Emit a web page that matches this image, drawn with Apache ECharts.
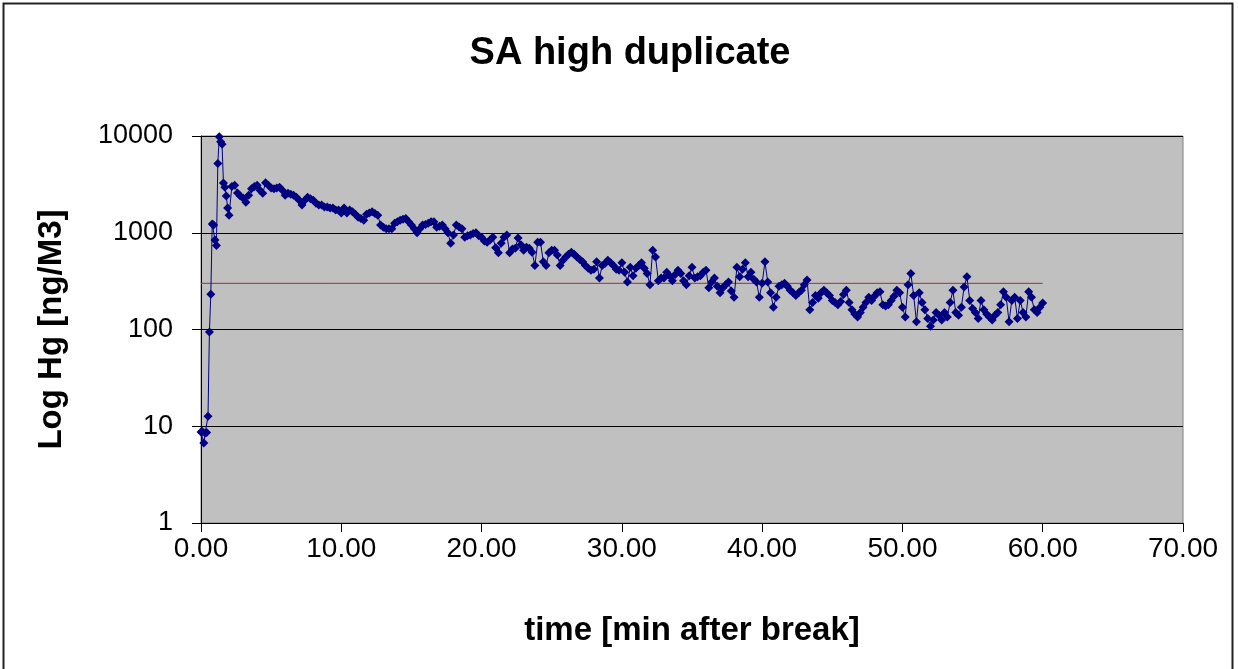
<!DOCTYPE html>
<html>
<head>
<meta charset="utf-8">
<title>SA high duplicate</title>
<script src="https://cdn.jsdelivr.net/npm/echarts@6/dist/echarts.min.js"></script>
<style>
    html, body { margin: 0; padding: 0; background: #fff; }
    #chart { width: 1238px; height: 669px; }
</style>
</head>
<body>
<div id="chart"></div>
<script>
/*
 * SA high duplicate - Hg concentration after break
 */
var timeMin = [
    0.0, 0.1, 0.2, 0.3, 0.4, 0.5, 0.6, 0.7, 0.8, 0.9, 1.0, 1.1, 1.2, 1.3, 1.4, 1.5, 1.6, 1.7, 1.8, 1.9, 2.0,
    2.2, 2.4, 2.6, 2.8, 3.0, 3.2, 3.4, 3.6, 3.8, 4.0,
    4.2, 4.4, 4.6, 4.8, 5.0, 5.2, 5.4, 5.6, 5.8, 6.0,
    6.2, 6.4, 6.6, 6.8, 7.0, 7.2, 7.4, 7.6, 7.8, 8.0,
    8.2, 8.4, 8.6, 8.8, 9.0, 9.2, 9.4, 9.6, 9.8, 10.0,
    10.2, 10.4, 10.6, 10.8, 11.0, 11.2, 11.4, 11.6, 11.8, 12.0,
    12.2, 12.4, 12.6, 12.8, 13.0, 13.2, 13.4, 13.6, 13.8, 14.0,
    14.2, 14.4, 14.6, 14.8, 15.0, 15.2, 15.4, 15.6, 15.8, 16.0,
    16.2, 16.4, 16.6, 16.8, 17.0, 17.2, 17.4, 17.6, 17.8, 18.0,
    18.2, 18.4, 18.6, 18.8, 19.0, 19.2, 19.4, 19.6, 19.8, 20.0,
    20.2, 20.4, 20.6, 20.8, 21.0, 21.2, 21.4, 21.6, 21.8, 22.0,
    22.2, 22.4, 22.6, 22.8, 23.0, 23.2, 23.4, 23.6, 23.8, 24.0,
    24.2, 24.4, 24.6, 24.8, 25.0, 25.2, 25.4, 25.6, 25.8, 26.0,
    26.2, 26.4, 26.6, 26.8, 27.0, 27.2, 27.4, 27.6, 27.8, 28.0,
    28.2, 28.4, 28.6, 28.8, 29.0, 29.2, 29.4, 29.6, 29.8, 30.0,
    30.2, 30.4, 30.6, 30.8, 31.0, 31.2, 31.4, 31.6, 31.8, 32.0,
    32.2, 32.4, 32.6, 32.8, 33.0, 33.2, 33.4, 33.6, 33.8, 34.0,
    34.2, 34.4, 34.6, 34.8, 35.0, 35.2, 35.4, 35.6, 35.8, 36.0,
    36.2, 36.4, 36.6, 36.8, 37.0, 37.2, 37.4, 37.6, 37.8, 38.0,
    38.2, 38.4, 38.6, 38.8, 39.0, 39.2, 39.4, 39.6, 39.8, 40.0,
    40.2, 40.4, 40.6, 40.8, 41.0, 41.2, 41.4, 41.6, 41.8, 42.0,
    42.2, 42.4, 42.6, 42.8, 43.0, 43.2, 43.4, 43.6, 43.8, 44.0,
    44.2, 44.4, 44.6, 44.8, 45.0, 45.2, 45.4, 45.6, 45.8, 46.0,
    46.2, 46.4, 46.6, 46.8, 47.0, 47.2, 47.4, 47.6, 47.8, 48.0,
    48.2, 48.4, 48.6, 48.8, 49.0, 49.2, 49.4, 49.6, 49.8, 50.0,
    50.2, 50.4, 50.6, 50.8, 51.0, 51.2, 51.4, 51.6, 51.8, 52.0,
    52.2, 52.4, 52.6, 52.8, 53.0, 53.2, 53.4, 53.6, 53.8, 54.0,
    54.2, 54.4, 54.6, 54.8, 55.0, 55.2, 55.4, 55.6, 55.8, 56.0,
    56.2, 56.4, 56.6, 56.8, 57.0, 57.2, 57.4, 57.6, 57.8, 58.0,
    58.2, 58.4, 58.6, 58.8, 59.0, 59.2, 59.4, 59.6, 59.8, 60.0
];

var hgValues = [
    8.7, 8.8, 6.7, 8.5, 8.6, 12.7, 94, 232, 1230, 1200, 840, 740, 5200, 9800, 8700, 8200, 3270, 2960, 2400, 1800, 1520,
    3000, 3100, 2570, 2400, 2280, 2070, 2440, 2850, 3000, 3100,
    2750, 2560, 3280, 3100, 2900, 2850, 2900, 2960, 2750, 2440,
    2560, 2500, 2440, 2330, 2170, 1930, 2170, 2330, 2250, 2170,
    2020, 1930, 1930, 1850, 1850, 1800, 1800, 1720, 1720, 1600,
    1800, 1600, 1720, 1650, 1550, 1450, 1400, 1350, 1550, 1600,
    1650, 1580, 1520, 1200, 1140, 1100, 1100, 1100, 1250, 1300,
    1350, 1380, 1400, 1300, 1200, 1100, 1000, 1100, 1200, 1220,
    1250, 1300, 1300, 1140, 1170, 1200, 1100, 1000, 780, 950,
    1200, 1150, 1100, 900, 930, 950, 980, 1000, 930, 900,
    820, 800, 840, 900, 700, 620, 780, 900, 950, 620,
    680, 690, 880, 750, 660, 710, 690, 630, 460, 800,
    800, 500, 460, 620, 660, 660, 590, 460, 520, 560,
    600, 630, 600, 560, 530, 500, 460, 430, 410, 420,
    500, 340, 460, 480, 520, 490, 460, 420, 410, 490,
    390, 310, 440, 360, 430, 460, 490, 430, 380, 290,
    660, 560, 320, 340, 340, 390, 360, 320, 370, 410,
    380, 320, 290, 360, 440, 340, 350, 360, 390, 410,
    270, 310, 340, 280, 240, 270, 290, 310, 250, 215,
    440, 350, 420, 490, 350, 390, 330, 310, 215, 300,
    500, 310, 240, 170, 215, 280, 290, 300, 280, 255,
    240, 225, 240, 255, 290, 325, 160, 190, 225, 210,
    240, 255, 240, 225, 200, 190, 180, 195, 230, 255,
    190, 160, 145, 135, 150, 170, 190, 215, 200, 220,
    240, 245, 180, 175, 180, 200, 220, 255, 240, 170,
    135, 290, 380, 225, 120, 240, 190, 160, 130, 108,
    125, 150, 140, 125, 150, 135, 190, 255, 150, 140,
    170, 275, 350, 200, 165, 150, 130, 200, 160, 145,
    135, 125, 140, 150, 180, 245, 215, 120, 200, 215,
    130, 200, 150, 135, 245, 215, 160, 150, 170, 188
];

// reference level line
var limitTime = [0, 60];
var limitValue = [300, 300];

var xTicks = [0, 10, 20, 30, 40, 50, 60, 70];
var yTicks = [1, 10, 100, 1000, 10000];

var FONT = '"Liberation Sans", Arial, sans-serif';

function zipData(xs, ys) {
    var out = [];
    for (var i = 0; i < xs.length; i++) {
        out.push([xs[i], ys[i]]);
    }
    return out;
}

var chart = echarts.init(document.getElementById('chart'), null, { renderer: 'canvas' });

var option = {
    animation: false,
    backgroundColor: '#ffffff',
    textStyle: { fontFamily: FONT },
    title: {
        text: 'SA high duplicate',
        left: 625,
        textAlign: 'center',
        top: 30,
        textStyle: { fontFamily: FONT, fontSize: 38, fontWeight: 'bold', color: '#000' }
    },
    graphic: [{
        type: 'rect',
        shape: { x: 3.5, y: 3.5, width: 1229, height: 700 },
        style: { fill: 'none', stroke: '#222', lineWidth: 2 },
        silent: true
    }],
    grid: {
        left: 201,
        right: 55,
        top: 136,
        bottom: 146,
        show: true,
        backgroundColor: '#c0c0c0',
        borderColor: '#808080',
        borderWidth: 1
    },
    xAxis: {
        type: 'value',
        min: xTicks[0],
        max: xTicks[xTicks.length - 1],
        interval: 10,
        name: 'time [min after break]',
        nameLocation: 'middle',
        nameGap: 91,
        nameTextStyle: { fontFamily: FONT, fontSize: 33, fontWeight: 'bold', color: '#000' },
        axisLine: { show: true, onZero: false, lineStyle: { color: '#000', width: 1 } },
        axisTick: { show: true, inside: false, length: 9, lineStyle: { color: '#000' } },
        axisLabel: {
            margin: 12,
            fontFamily: FONT,
            fontSize: 28,
            color: '#000',
            formatter: function (v) { return v.toFixed(2); }
        },
        splitLine: { show: false }
    },
    yAxis: {
        type: 'log',
        logBase: 10,
        min: yTicks[0],
        max: yTicks[yTicks.length - 1],
        name: 'Log Hg [ng/M3]',
        nameLocation: 'middle',
        nameGap: 133,
        nameTextStyle: { fontFamily: FONT, fontSize: 33, fontWeight: 'bold', color: '#000' },
        axisLine: { show: true, lineStyle: { color: '#000', width: 1 } },
        axisTick: { show: true, inside: false, length: 9, lineStyle: { color: '#000' } },
        axisLabel: {
            margin: 28,
            fontFamily: FONT,
            fontSize: 27,
            color: '#000',
            formatter: function (v) { return String(Math.round(v)); }
        },
        splitLine: { show: true, lineStyle: { color: '#000', width: 1 } }
    },
    series: [{
        name: 'Hg',
        type: 'line',
        data: zipData(timeMin, hgValues),
        symbol: 'diamond',
        symbolSize: 9,
        showSymbol: true,
        showAllSymbol: true,
        lineStyle: { color: '#000080', width: 1 },
        itemStyle: { color: '#000080' },
        z: 3
    }, {
        name: 'limit',
        type: 'line',
        data: zipData(limitTime, limitValue),
        symbol: 'none',
        lineStyle: { color: '#a03030', width: 1 },
        z: 2
    }]
};

chart.setOption(option);
</script>
</body>
</html>
